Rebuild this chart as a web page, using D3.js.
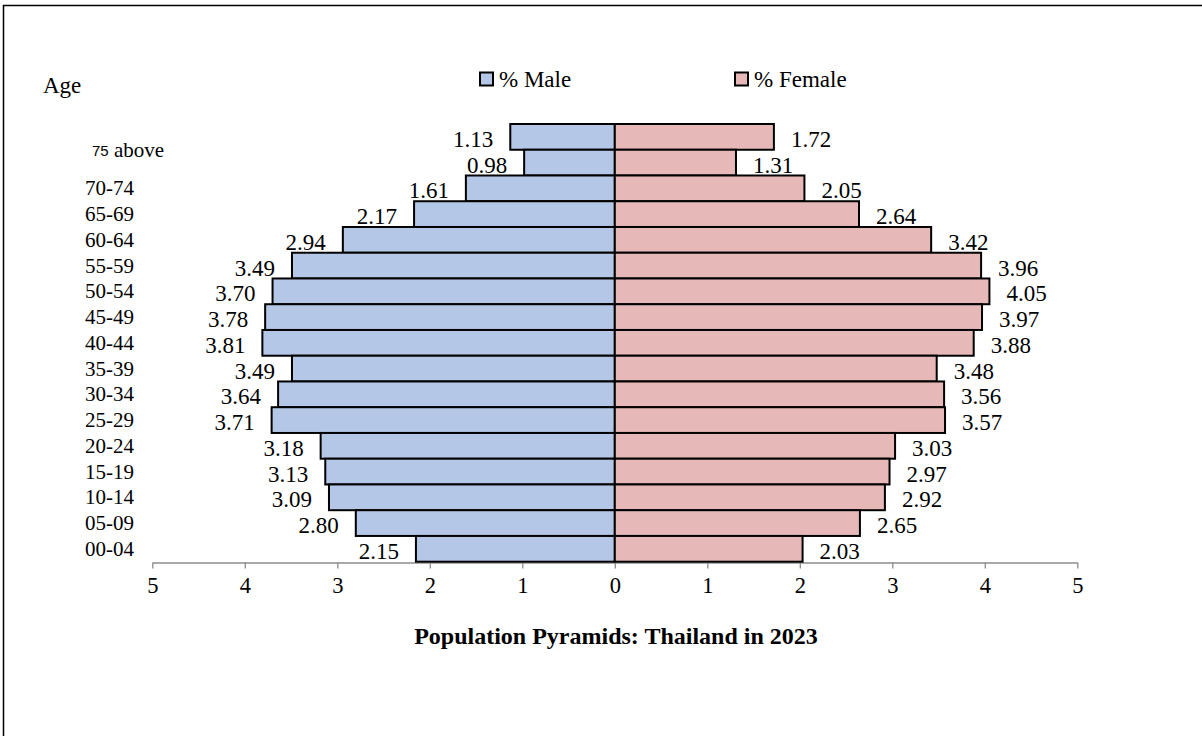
<!DOCTYPE html>
<html>
<head>
<meta charset="utf-8">
<script src="https://cdn.jsdelivr.net/npm/d3@7"></script>
<style>
  html, body { margin: 0; padding: 0; background: #fff; }
  svg { display: block; }
</style>
</head>
<body>
<svg id="chart" width="1202" height="736"></svg>
<script>
// Age groups, oldest first; an empty label shares the group label above it
const ageLabels = ["75 above", "", "70-74", "65-69", "60-64", "55-59", "50-54", "45-49",
  "40-44", "35-39", "30-34", "25-29", "20-24", "15-19", "10-14", "05-09", "00-04"];
const malePct = [1.13, 0.98, 1.61, 2.17, 2.94, 3.49, 3.70, 3.78, 3.81, 3.49, 3.64, 3.71,
  3.18, 3.13, 3.09, 2.80, 2.15];
const femalePct = [1.72, 1.31, 2.05, 2.64, 3.42, 3.96, 4.05, 3.97, 3.88, 3.48, 3.56, 3.57,
  3.03, 2.97, 2.92, 2.65, 2.03];
const tickValues = [0, 1, 2, 3, 4, 5];
const seriesNames = ["% Male", "% Female"];
const titleText = "Population Pyramids: Thailand in 2023";

const colors = { male: "#B4C7E7", female: "#E6B9B8" };
const SERIF = "'Liberation Serif', 'Times New Roman', serif";
const SANS = "'Liberation Sans', Arial, sans-serif";

const svg = d3.select("#chart");
const W = 1202, H = 736;

svg.append("rect").attr("width", W).attr("height", H).attr("fill", "#fff");
// outer frame
svg.append("path")
  .attr("d", `M3.5,${H} V5.5 H${W}`)
  .attr("fill", "none").attr("stroke", "#000").attr("stroke-width", 1.5);

const center = 614.8, half = 462.5;
const xL = d3.scaleLinear().domain([0, 5]).range([center, center - half]);
const xR = d3.scaleLinear().domain([0, 5]).range([center, center + half]);

const rows = d3.range(ageLabels.length);
const y = d3.scaleBand().domain(rows).range([124, 561.7]).paddingInner(0).paddingOuter(0);
const bw = y.bandwidth();

// x axes (left half mirrored)
const axisY = 562.5;
function styleAxis(g) {
  g.attr("font-family", null);
  g.selectAll("path.domain").attr("stroke", "#8c8c8c").attr("stroke-width", 1.3);
  g.selectAll(".tick line").attr("stroke", "#8c8c8c").attr("stroke-width", 1.3);
  g.selectAll(".tick text")
    .style("font-family", SERIF)
    .style("font-size", "22.5px").attr("fill", "#000");
}
svg.append("g").attr("transform", `translate(0,${axisY})`)
  .call(d3.axisBottom(xL).tickValues(tickValues.slice(1)).tickSize(6).tickSizeOuter(0).tickPadding(9).tickFormat(d3.format("d")))
  .call(styleAxis);
svg.append("g").attr("transform", `translate(0,${axisY})`)
  .call(d3.axisBottom(xR).tickValues(tickValues).tickSize(6).tickSizeOuter(0).tickPadding(9).tickFormat(d3.format("d")))
  .call(styleAxis);

// bars
svg.append("g").selectAll("rect").data(rows).join("rect")
  .attr("x", i => xL(malePct[i]))
  .attr("y", i => y(i))
  .attr("width", i => xL(0) - xL(malePct[i]))
  .attr("height", bw)
  .attr("fill", colors.male).attr("stroke", "#000").attr("stroke-width", 2);
svg.append("g").selectAll("rect").data(rows).join("rect")
  .attr("x", xR(0))
  .attr("y", i => y(i))
  .attr("width", i => xR(femalePct[i]) - xR(0))
  .attr("height", bw)
  .attr("fill", colors.female).attr("stroke", "#000").attr("stroke-width", 2);

// value labels
const labelGap = 17;
svg.append("g").selectAll("text").data(rows).join("text")
  .attr("x", i => xL(malePct[i]) - labelGap)
  .attr("y", i => y(i) + bw / 2 + 2.5)
  .attr("text-anchor", "end").attr("dominant-baseline", "central")
  .style("font-family", SERIF).style("font-size", "23px")
  .text(i => malePct[i].toFixed(2));
svg.append("g").selectAll("text").data(rows).join("text")
  .attr("x", i => xR(femalePct[i]) + labelGap)
  .attr("y", i => y(i) + bw / 2 + 2.5)
  .attr("text-anchor", "start").attr("dominant-baseline", "central")
  .style("font-family", SERIF).style("font-size", "23px")
  .text(i => femalePct[i].toFixed(2));

// age labels: a label followed by an empty one is centred across both rows
const catG = svg.append("g");
rows.forEach(i => {
  const lab = ageLabels[i];
  if (!lab) return;
  const spans = (i + 1 < rows.length && !ageLabels[i + 1]) ? 2 : 1;
  const cy = y(i) + bw * spans / 2;
  const t = catG.append("text")
    .attr("x", spans === 2 ? 92 : 85)
    .attr("y", cy)
    .attr("dominant-baseline", "central")
    .style("font-family", SERIF).style("font-size", "21px");
  const m = lab.match(/^(\d+)(\s.*)$/);
  if (m) {
    t.append("tspan").style("font-family", SANS).style("font-size", "15px").text(m[1]);
    t.append("tspan").text(m[2]);
  } else {
    t.text(lab);
  }
});

svg.append("text").attr("x", 43).attr("y", 85)
  .attr("dominant-baseline", "central")
  .style("font-family", SERIF).style("font-size", "23px").text("Age");

// legend
const legendItems = [
  { name: seriesNames[0], color: colors.male, x: 480 },
  { name: seriesNames[1], color: colors.female, x: 735 }
];
const lg = svg.append("g").selectAll("g").data(legendItems).join("g")
  .attr("transform", d => `translate(${d.x},72.5)`);
lg.append("rect").attr("width", 13).attr("height", 13)
  .attr("fill", d => d.color).attr("stroke", "#000").attr("stroke-width", 2);
lg.append("text").attr("x", 19).attr("y", 6.5)
  .attr("dominant-baseline", "central")
  .style("font-family", SERIF).style("font-size", "23px")
  .text(d => d.name);

// title
svg.append("text").attr("x", 616).attr("y", 636)
  .attr("text-anchor", "middle").attr("dominant-baseline", "central")
  .style("font-family", SERIF).style("font-size", "24px").style("font-weight", "bold")
  .text(titleText);
</script>
</body>
</html>
